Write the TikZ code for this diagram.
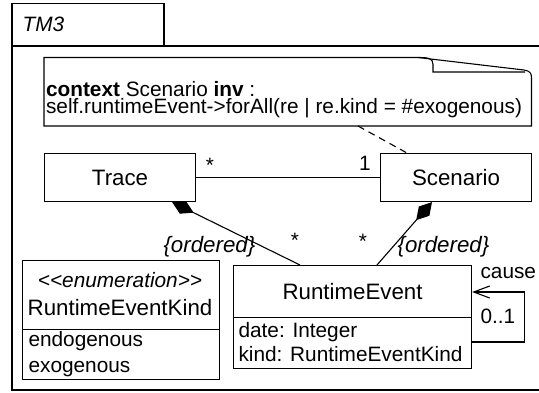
\documentclass[tikz,border=0pt]{standalone}
\usepackage{fontspec}
\setmainfont{Liberation Sans}
\usetikzlibrary{arrows.meta,calc}
\begin{document}
\begin{tikzpicture}[x=1pt,y=-1pt,line width=1.1pt,
  bigf/.style={font=\fontsize{22.3}{26}\selectfont},
  smallf/.style={font=\fontsize{20.8}{24}\selectfont},
  cls/.style={draw,anchor=north west,inner sep=0pt,bigf},
  box/.style={draw,anchor=north west,inner sep=0pt},
  lbl/.style={inner sep=0pt,smallf},
  tl/.style={inner sep=0pt,anchor=base west,smallf},
  comp/.style={{Diamond[length=24pt,width=14pt]}-},
  notelink/.style={dash pattern=on 7pt off 5pt}
]
\useasboundingbox (0,0) rectangle (539,392);
% frame
\draw[line width=1.3pt] (12,46) -- (12,3.5) -- (164,3.5) -- (164,46);
\draw[line width=1.3pt] (545,46) -- (12,46) -- (12,390) -- (545,390) -- cycle;
\node[tl,anchor=base west,font=\fontsize{20.8}{24}\selectfont\itshape] (tm) at (22,31.5) {TM3};
% note
\draw (418,57.5) -- (44,57.5) -- (44,126) -- (531.5,126) -- (531.5,78)
      .. controls (531.5,73) and (530,71) .. (524,70) -- cycle;
\draw (418,57.5) .. controls (429,57.5) and (433,58.5) .. (433,64.5) -- (433,72) -- (525,72);
\node[inner sep=0pt,anchor=north west,align=left,font=\fontsize{20.8}{17.5}\selectfont] (notetext) at (45.5,80.5)
  {\textbf{context} Scenario \textbf{inv} :\\self.runtimeEvent->forAll(re | re.kind = \#exogenous)};
\coordinate (notebot) at (358,126);
% classes
\node[cls,minimum width=151pt,minimum height=48pt] (trace) at (44,153) {Trace};
\node[cls,minimum width=151pt,minimum height=48pt] (scen) at (380,153) {Scenario};
\node[cls,minimum width=238pt,minimum height=52pt] (re) at (233,265) {RuntimeEvent};
\node[box,minimum width=238pt,minimum height=51pt] (reattr) at (233,317) {};
\node[tl] (a1) at (238,337) {date: Integer};
\node[tl] (a2) at (238,361) {kind: RuntimeEventKind};
% enumeration
\node[box,minimum width=197pt,minimum height=69pt] (enum) at (22,260) {};
\node[lbl,anchor=base,font=\fontsize{20.8}{24}\selectfont\itshape] (st) at (120,287) {<{}<enumeration>{}>};
\node[inner sep=0pt,anchor=base,bigf] (en) at (120,315) {RuntimeEventKind};
\node[box,minimum width=197pt,minimum height=50pt] (enumlit) at (22,329) {};
\node[tl] (l1) at (28,346.5) {endogenous};
\node[tl] (l2) at (28,372.5) {exogenous};
% associations
\draw (trace) -- (scen);
\node[lbl] (m1) at (210,165) {*};
\node[lbl] (m2) at (365,163.5) {1};
\draw[notelink] (notebot) -- ($(scen.north west)+(27,0)$);
\draw[comp] ($(trace.south east)+(-24,0)$) -- ($(re.north west)+(67,0)$);
\draw[comp] ($(scen.south west)+(52,0)$) -- ($(re.north west)+(144,0)$);
\node[lbl] (m3) at (295,240) {*};
\node[lbl] (m4) at (363,241) {*};
\node[inner sep=0pt,anchor=base west,font=\fontsize{22.3}{26}\selectfont\itshape] (o1) at (163,252) {\{ordered\}};
\node[inner sep=0pt,anchor=base west,font=\fontsize{22.3}{26}\selectfont\itshape] (o2) at (397,252) {\{ordered\}};
% self association
\draw[-{Straight Barb[length=16pt,width=12pt]}] ($(reattr.north east)+(0,25)$) -- ++(52,0) |- ($(re.north east)+(0,27)$);
\node[tl] (c1) at (480,278) {cause};
\node[tl] (c2) at (480,323.5) {0..1};
\end{tikzpicture}
\end{document}
